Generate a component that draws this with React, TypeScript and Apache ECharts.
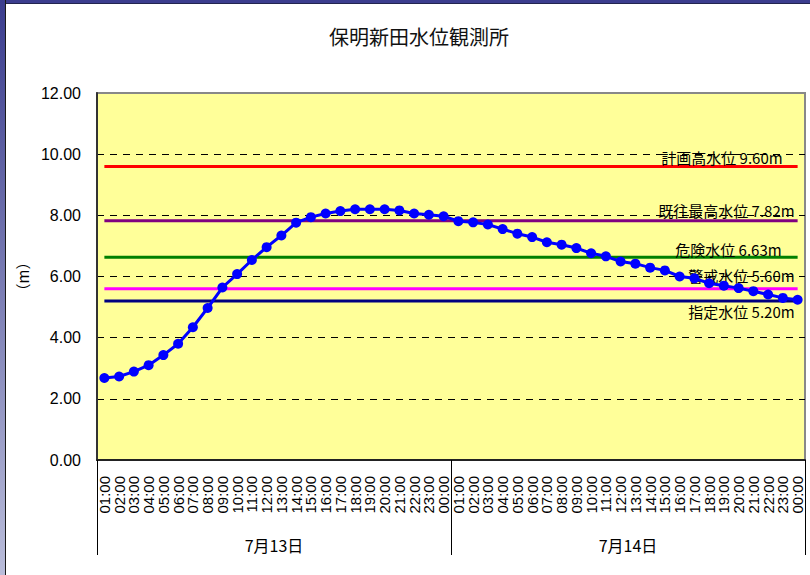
import React, { useEffect, useRef } from "react";
import * as echarts from "echarts";

const hours = [
  "01:00", "02:00", "03:00", "04:00", "05:00", "06:00", "07:00", "08:00",
  "09:00", "10:00", "11:00", "12:00", "13:00", "14:00", "15:00", "16:00",
  "17:00", "18:00", "19:00", "20:00", "21:00", "22:00", "23:00", "00:00",
];
const days = ["7月13日", "7月14日"];
const categories = [...hours, ...hours];

const waterLevelDay1 = [
  2.68, 2.73, 2.89, 3.1, 3.43, 3.8, 4.34, 4.97, 5.64, 6.08, 6.54, 6.96,
  7.34, 7.76, 7.94, 8.06, 8.14, 8.2, 8.2, 8.2, 8.16, 8.06, 8.02, 7.97,
];
const waterLevelDay2 = [
  7.81, 7.77, 7.7, 7.55, 7.4, 7.29, 7.12, 7.04, 6.93, 6.76, 6.66, 6.49,
  6.42, 6.29, 6.2, 6.0, 5.94, 5.78, 5.7, 5.62, 5.52, 5.41, 5.3, 5.24,
];
const waterLevel = [...waterLevelDay1, ...waterLevelDay2];

const levelNames = ["計画高水位", "既往最高水位", "危険水位", "警戒水位", "指定水位"];
const levelValues = [9.6, 7.82, 6.63, 5.6, 5.2];
const levelColors = ["#FF0000", "#800080", "#008000", "#FF00FF", "#000080"];
const levelLabelOffsets: [number, number][] = [
  [-15, -9],
  [-3, -10],
  [-16, -8],
  [-3, -13],
  [-3, 11],
];

const titleText = "保明新田水位観測所";
const yAxisName = "（m）";

export default function App() {
  const ref = useRef<HTMLDivElement>(null);

  useEffect(() => {
    if (!ref.current) return;
    const chart = echarts.init(ref.current, undefined, { renderer: "svg" });

    const levelSeries = levelNames.map((name, i) => ({
      name,
      type: "line",
      xAxisIndex: 0,
      yAxisIndex: 0,
      symbol: "circle",
      symbolSize: 0,
      showAllSymbol: true,
      lineStyle: { color: levelColors[i], width: 3 },
      itemStyle: { color: levelColors[i] },
      z: 2,
      silent: true,
      data: categories.map((_, j) =>
        j === categories.length - 1
          ? {
              value: levelValues[i],
              label: {
                show: true,
                position: "left",
                distance: 0,
                offset: levelLabelOffsets[i],
                formatter: `${name} ${levelValues[i].toFixed(2)}m`,
                color: "#000",
                fontSize: 15,
                fontFamily: "Noto Sans CJK JP",
              },
            }
          : levelValues[i]
      ),
    }));

    chart.setOption({
      animation: false,
      backgroundColor: "#ffffff",
      title: {
        text: titleText,
        left: 324,
        top: 21,
        textStyle: {
          fontSize: 20,
          fontWeight: "normal",
          color: "#111",
          fontFamily: "Noto Sans CJK JP",
        },
      },
      grid: {
        left: 97,
        top: 93,
        right: 5,
        bottom: 115,
        show: true,
        backgroundColor: "#FFFF99",
        borderColor: "#888888",
        borderWidth: 2,
      },
      xAxis: [
        {
          type: "category",
          data: categories,
          boundaryGap: true,
          axisLine: { show: true, lineStyle: { color: "#222", width: 2 } },
          axisTick: { show: false },
          splitLine: { show: false },
          axisLabel: {
            interval: 0,
            rotate: 90,
            margin: 16,
            color: "#000",
            fontSize: 15,
            fontFamily: "Liberation Sans",
          },
        },
        {
          type: "category",
          data: days,
          position: "bottom",
          boundaryGap: true,
          axisLine: { show: false },
          axisTick: {
            show: true,
            length: 95,
            interval: 0,
            lineStyle: { color: "#000", width: 1 },
          },
          splitLine: { show: false },
          axisLabel: {
            interval: 0,
            margin: 77,
            color: "#000",
            fontSize: 16,
            fontFamily: "Noto Sans CJK JP",
          },
        },
      ],
      yAxis: {
        type: "value",
        min: 0,
        max: 12,
        interval: 2,
        name: yAxisName,
        nameLocation: "middle",
        nameRotate: 90,
        nameGap: 55,
        nameTextStyle: {
          color: "#000",
          fontSize: 15,
          fontFamily: "Noto Sans CJK JP",
        },
        axisLine: { show: true, lineStyle: { color: "#333", width: 2 } },
        axisTick: { show: false },
        axisLabel: {
          margin: 16,
          color: "#000",
          fontSize: 16,
          fontFamily: "Liberation Sans",
          formatter: (v: number) => v.toFixed(2),
        },
        splitLine: {
          show: true,
          showMinLine: false,
          showMaxLine: false,
          lineStyle: { color: "#000", width: 1, type: [7, 6] },
        },
      },
      series: [
        ...levelSeries,
        {
          name: "水位",
          type: "line",
          xAxisIndex: 0,
          yAxisIndex: 0,
          data: waterLevel,
          symbol: "circle",
          symbolSize: 10,
          showAllSymbol: true,
          lineStyle: { color: "#0000FF", width: 3 },
          itemStyle: { color: "#0000FF" },
          z: 5,
        },
      ],
    });

    return () => chart.dispose();
  }, []);

  return (
    <div
      style={{
        position: "absolute",
        left: 0,
        top: 0,
        width: 810,
        height: 575,
        background: "#fff",
        overflow: "hidden",
      }}
    >
      <div ref={ref} style={{ position: "absolute", left: 0, top: 0, width: 810, height: 575 }} />
      <div
        style={{
          position: "absolute",
          left: 0,
          top: 0,
          width: 810,
          height: 3,
          background: "#3b3d8e",
          borderBottom: "1px solid #22244f",
        }}
      />
      <div
        style={{
          position: "absolute",
          left: 0,
          top: 0,
          width: 5,
          height: 575,
          background: "linear-gradient(#3b3d8e, #babdda)",
          borderRight: "1px solid #1a1a1a",
        }}
      />
    </div>
  );
}
